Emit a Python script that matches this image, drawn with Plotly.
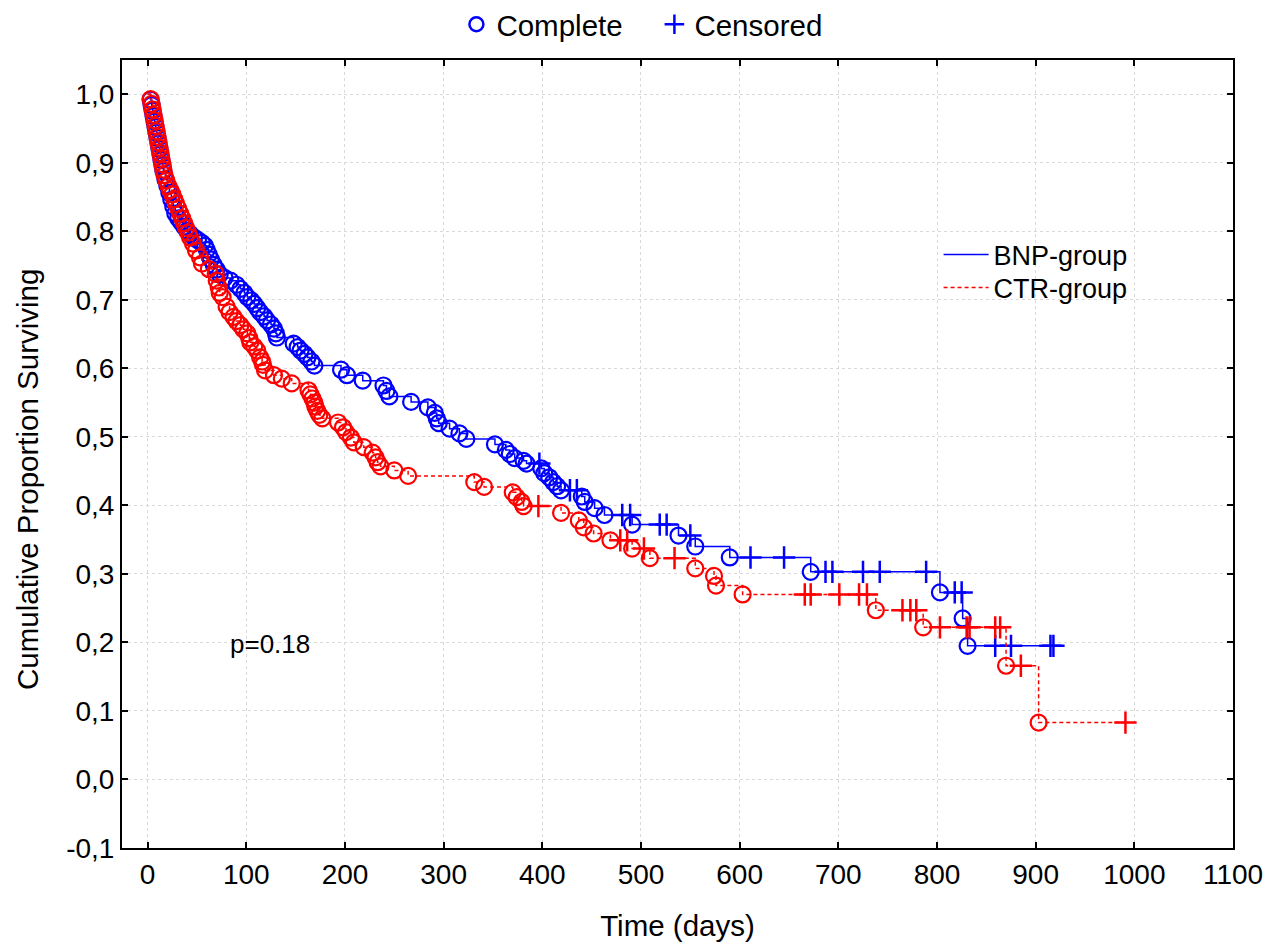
import plotly.graph_objects as go

# ---------------- data ----------------
bnp_event_t = [3, 4, 5, 6, 7, 8, 9, 10, 11, 12, 13, 14, 15, 16, 18, 20, 22, 24, 26, 28,
               31, 34, 37, 40, 43, 47, 51, 55, 58, 60, 62, 64, 67, 70, 73, 78,
               84, 90, 94, 98, 101, 105, 108, 111, 114, 118, 121, 125, 128, 130, 131,
               148, 152, 155, 159, 162, 166, 169, 196, 202, 218, 239, 242, 245, 267,
               284, 291, 293, 295, 306, 316, 323, 352, 363, 367, 372, 381, 384,
               399, 402, 407, 411, 415, 419, 440, 443, 453, 463, 491, 538, 555, 590,
               672, 803, 826, 831]
bnp_event_s = [0.992, 0.984, 0.976, 0.968, 0.960, 0.952, 0.944, 0.936, 0.928, 0.920,
               0.912, 0.904, 0.896, 0.888, 0.876, 0.866, 0.856, 0.846, 0.836, 0.826,
               0.819, 0.813, 0.807, 0.801, 0.796, 0.791, 0.787, 0.783, 0.779, 0.773,
               0.766, 0.759, 0.751, 0.744, 0.737, 0.732,
               0.728, 0.722, 0.716, 0.710, 0.704, 0.699, 0.694, 0.688, 0.682, 0.676,
               0.670, 0.664, 0.658, 0.651, 0.645,
               0.636, 0.631, 0.626, 0.621, 0.616, 0.610, 0.604, 0.598, 0.590, 0.582,
               0.575, 0.567, 0.559, 0.551,
               0.543, 0.535, 0.527, 0.520, 0.512, 0.505, 0.497, 0.489, 0.481, 0.475,
               0.469, 0.465, 0.461,
               0.454, 0.447, 0.441, 0.434, 0.428, 0.422, 0.413, 0.405, 0.396, 0.386,
               0.372, 0.356, 0.340, 0.324,
               0.303, 0.273, 0.235, 0.195]
bnp_cens_t = [397, 428, 435, 481, 489, 519, 526, 550, 611, 645, 687, 694, 725, 742, 789,
              818, 825, 859, 875, 915, 918]
bnp_cens_s = [0.461, 0.422, 0.422, 0.386, 0.386, 0.372, 0.372, 0.356, 0.324, 0.324,
              0.303, 0.303, 0.303, 0.303, 0.303, 0.273, 0.273, 0.195, 0.195, 0.195, 0.195]

ctr_event_t = [3, 4, 5, 6, 7, 8, 9, 10, 11, 12, 13, 14, 15, 16, 17, 19, 21, 23, 25, 27,
               29, 31, 33, 35, 37, 39, 41, 43, 46, 49, 53, 55, 62, 69,
               70, 72, 73, 76, 80, 83, 87, 90, 94, 97, 101, 103, 104, 108, 111, 114,
               116, 117, 119, 128, 136, 146, 163, 165, 167, 169, 170, 172, 174, 177,
               193, 198, 201, 206, 209, 219, 228, 231, 233, 236, 250, 264,
               331, 341, 370, 374, 379, 381, 419, 437, 442, 452, 469, 491, 509,
               555, 574, 576, 603, 738, 786, 870, 903]
ctr_event_s = [0.993, 0.986, 0.978, 0.970, 0.962, 0.954, 0.946, 0.938, 0.930, 0.922,
               0.914, 0.906, 0.898, 0.890, 0.882, 0.874, 0.866, 0.860, 0.854, 0.847,
               0.840, 0.833, 0.826, 0.819, 0.812, 0.805, 0.798, 0.791, 0.782, 0.772,
               0.762, 0.753, 0.745, 0.738,
               0.728, 0.718, 0.710, 0.704, 0.690, 0.682, 0.675, 0.669, 0.663, 0.657,
               0.651, 0.644, 0.638, 0.632, 0.626, 0.616,
               0.610, 0.605, 0.597, 0.590, 0.585, 0.578, 0.568, 0.562, 0.556, 0.550,
               0.544, 0.538, 0.532, 0.527,
               0.521, 0.514, 0.507, 0.499, 0.492, 0.485, 0.477, 0.470, 0.463, 0.457,
               0.451, 0.443,
               0.434, 0.427, 0.419, 0.412, 0.405, 0.399, 0.389, 0.378, 0.368, 0.359,
               0.349, 0.337, 0.323,
               0.308, 0.297, 0.283, 0.270, 0.247, 0.222, 0.166, 0.083]
ctr_cens_t = [396, 479, 486, 503, 534, 666, 672, 701, 721, 729, 765, 773, 779, 803, 830,
              833, 859, 864, 885, 991]
ctr_cens_s = [0.399, 0.349, 0.349, 0.337, 0.323, 0.270, 0.270, 0.270, 0.270, 0.270,
              0.247, 0.247, 0.247, 0.222, 0.222, 0.222, 0.222, 0.222, 0.166, 0.083]

x_ticks = [0, 100, 200, 300, 400, 500, 600, 700, 800, 900, 1000, 1100]
y_ticks = [-0.1, 0.0, 0.1, 0.2, 0.3, 0.4, 0.5, 0.6, 0.7, 0.8, 0.9, 1.0]
y_ticktext = ["-0,1", "0,0", "0,1", "0,2", "0,3", "0,4", "0,5", "0,6", "0,7", "0,8", "0,9", "1,0"]

BLUE = "#0000FF"
RED = "#FF0000"
FONT = "Liberation Sans, Arial, sans-serif"


def step_points(et, es, ct, cs):
    pts = [(0.0, 0, 1.0)] + [(t, 0, s) for t, s in zip(et, es)] + [(t, 1, s) for t, s in zip(ct, cs)]
    pts.sort(key=lambda p: (p[0], p[1]))
    return [p[0] for p in pts], [p[2] for p in pts]


fig = go.Figure()

for name, et, es, ct, cs, col, dash, leg in [
    ("BNP-group", bnp_event_t, bnp_event_s, bnp_cens_t, bnp_cens_s, BLUE, "solid", "legend2"),
    ("CTR-group", ctr_event_t, ctr_event_s, ctr_cens_t, ctr_cens_s, RED, "4px,3px", "legend3"),
]:
    lx, ly = step_points(et, es, ct, cs)
    fig.add_trace(go.Scatter(x=lx, y=ly, mode="lines", line_shape="hv", name=name,
                             line=dict(color=col, width=1.5, dash=dash), legend=leg))
    fig.add_trace(go.Scatter(x=et, y=es, mode="markers", showlegend=False, hoverinfo="x+y",
                             marker=dict(symbol="circle-open", size=16, color=col,
                                         line=dict(width=2.2, color=col))))
    fig.add_trace(go.Scatter(x=ct, y=cs, mode="markers", showlegend=False, hoverinfo="x+y",
                             marker=dict(symbol="cross-thin", size=16, color=col,
                                         line=dict(width=2.5, color=col))))

# legend entries for marker types
fig.add_trace(go.Scatter(x=[None], y=[None], mode="markers", name="Complete", legend="legend",
                         marker=dict(symbol="circle-open", size=14, color=BLUE,
                                     line=dict(width=2.5, color=BLUE))))
fig.add_trace(go.Scatter(x=[None], y=[None], mode="markers", name="Censored", legend="legend",
                         marker=dict(symbol="cross-thin", size=14, color=BLUE,
                                     line=dict(width=2.5, color=BLUE))))

fig.add_annotation(x=124, y=0.198, text="p=0.18", showarrow=False,
                   font=dict(size=26, color="black", family=FONT))

# y-axis title as rotated text
fig.add_annotation(x=-0.0855, y=0.467, xref="paper", yref="paper", text="Cumulative Proportion Surviving",
                   textangle=-90, showarrow=False, xanchor="center", yanchor="middle",
                   font=dict(size=29.5, color="black", family=FONT))

axis_common = dict(showline=True, linecolor="black", linewidth=2, mirror="ticks",
                   ticks="inside", ticklen=6, tickwidth=2, tickcolor="black",
                   showgrid=True, gridcolor="#d9d9d9", griddash="dot", gridwidth=1,
                   zeroline=False, tickfont=dict(size=28, family=FONT, color="black"))

leg_common = dict(xanchor="left", yanchor="middle", font=dict(size=27, family=FONT),
                  bgcolor="rgba(0,0,0,0)", itemwidth=45)

fig.update_layout(
    width=1280, height=945,
    paper_bgcolor="white", plot_bgcolor="white",
    margin=dict(l=114, r=55, t=52, b=105, autoexpand=False),
    font=dict(family=FONT, color="black"),
    xaxis=dict(range=[-26, 1100], tickvals=x_ticks, **axis_common,
               title=dict(text="Time (days)", font=dict(size=29.5, family=FONT), standoff=27)),
    yaxis=dict(range=[-0.1, 1.05], tickvals=y_ticks, ticktext=y_ticktext, **axis_common),
    legend=dict(orientation="h", x=0.505, xref="container", xanchor="center",
                y=1.045, yanchor="middle", entrywidth=153, entrywidthmode="pixels",
                font=dict(size=29.5, family=FONT), bgcolor="rgba(0,0,0,0)"),
    legend2=dict(x=0.735, y=0.7525, **leg_common),
    legend3=dict(x=0.735, y=0.7107, **leg_common),
    showlegend=True,
)

fig.write_html("out.html")
